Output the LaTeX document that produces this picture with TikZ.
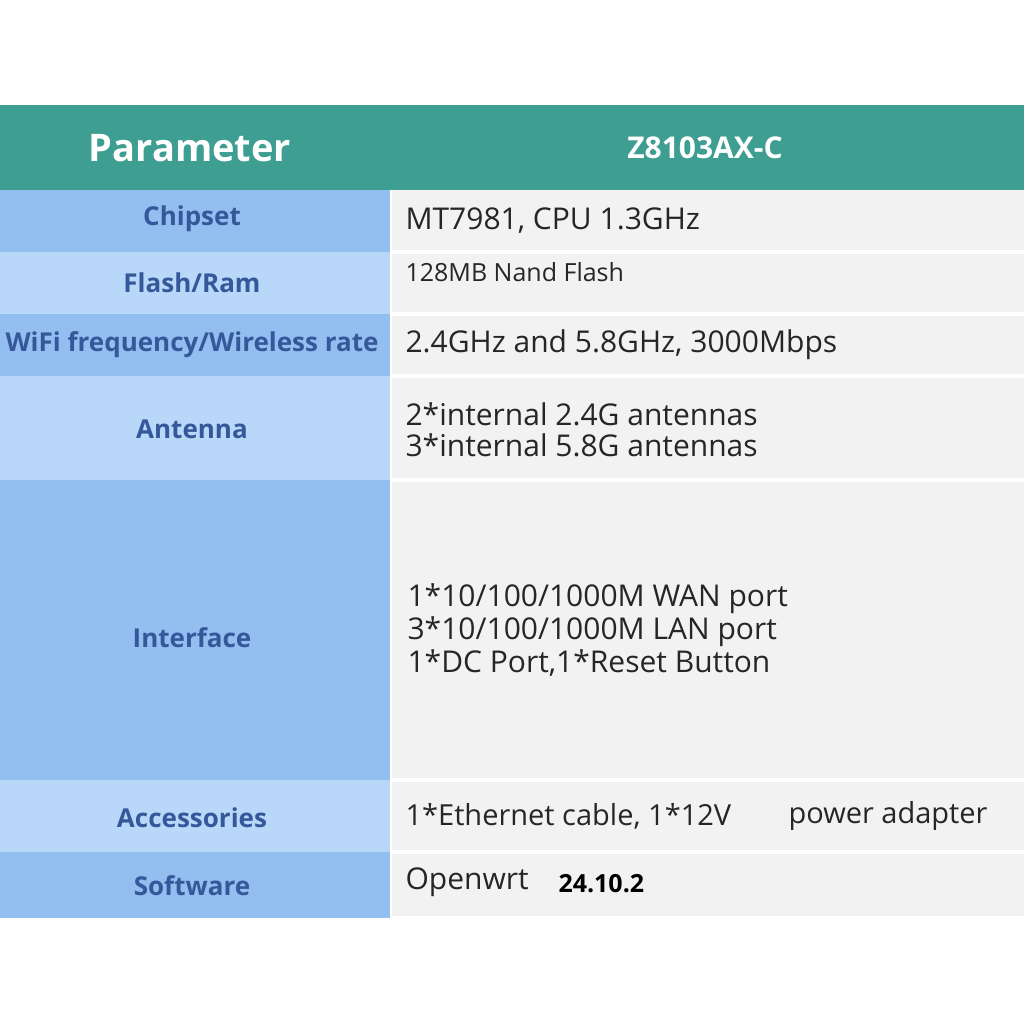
\documentclass[tikz,border=0pt]{standalone}
\usepackage{fontspec}
\setmainfont{Open Sans}
\definecolor{teal}{HTML}{3E9E92}
\definecolor{blueA}{HTML}{93BEF0}
\definecolor{blueB}{HTML}{B9D7F8}
\definecolor{labelc}{HTML}{35589A}
\definecolor{cellc}{HTML}{F2F2F2}
\begin{document}
\begin{tikzpicture}[x=1pt,y=-1pt,
    lab/.style={font=\fontsize{26}{28}\selectfont\bfseries, text=labelc},
    val/.style={font=\fontsize{30}{32}\selectfont, text=black!85, anchor=west, align=left}]
            \useasboundingbox (0,0) rectangle (1024,1024);
            \fill[white] (0,0) rectangle (1024,1024);

            % header
            \fill[teal] (0,105) rectangle (1024,190);
            \node[font=\fontsize{38}{40}\selectfont\bfseries, text=white] (hpar) at (190,148) {Parameter};
            \node[font=\fontsize{30}{32}\selectfont\bfseries, text=white] (hmod) at (705,148) {Z8103AX-C};

            % left column
            \fill[blueA] (0,190) rectangle (390,252);
            \fill[blueB] (0,252) rectangle (390,314);
            \fill[blueA] (0,314) rectangle (390,376);
            \fill[blueB] (0,376) rectangle (390,480);
            \fill[blueA] (0,480) rectangle (390,780);
            \fill[blueB] (0,780) rectangle (390,852);
            \fill[blueA] (0,852) rectangle (390,918);

            % right column
            \foreach \ya/\yb in {190/250, 254/312, 316/374, 378/478, 482/778, 782/850, 854/916}
              \fill[cellc] (392,\ya) rectangle (1024,\yb);
            \draw[white, line width=2pt] (391,190) -- (391,918);

            \node[lab] (lchip) at (192,219) {Chipset};
            \node[lab] (lflash) at (192,283) {Flash/Ram};
            \node[lab] (lwifi) at (192,345) {WiFi frequency/Wireless rate};
            \node[lab] (lant) at (192,429) {Antenna};
            \node[lab] (lint) at (192,638) {Interface};
            \node[lab] (lacc) at (192,818) {Accessories};
            \node[lab] (lsoft) at (192,886) {Software};

            \node[val] (vchip) at (402,221) {MT7981, CPU 1.3GHz};
            \node[val, font=\fontsize{25}{26}\selectfont] (vflash) at (402,272) {128MB Nand Flash};
            \node[val] (vwifi) at (402,345) {2.4GHz and 5.8GHz, 3000Mbps};
            \node[val, font=\fontsize{30}{31}\selectfont] (vant) at (402,430) {2*internal 2.4G antennas\\3*internal 5.8G antennas};
            \node[val, font=\fontsize{30}{33}\selectfont] (vint) at (404,630) {1*10/100/1000M WAN port\\3*10/100/1000M LAN port\\1*DC Port,1*Reset Button};
            \node[val, font=\fontsize{29}{30}\selectfont] (vacc) at (402,816) {1*Ethernet cable, 1*12V};
            \node[val, font=\fontsize{29}{30}\selectfont] (vacc2) at (785,816) {power adapter};
            \node[val] (vsoft) at (402,882) {Openwrt};
            \node[val, font=\fontsize{25}{26}\selectfont\bfseries, text=black] (vver) at (555,884) {24.10.2};
        \end{tikzpicture}
\end{document}
